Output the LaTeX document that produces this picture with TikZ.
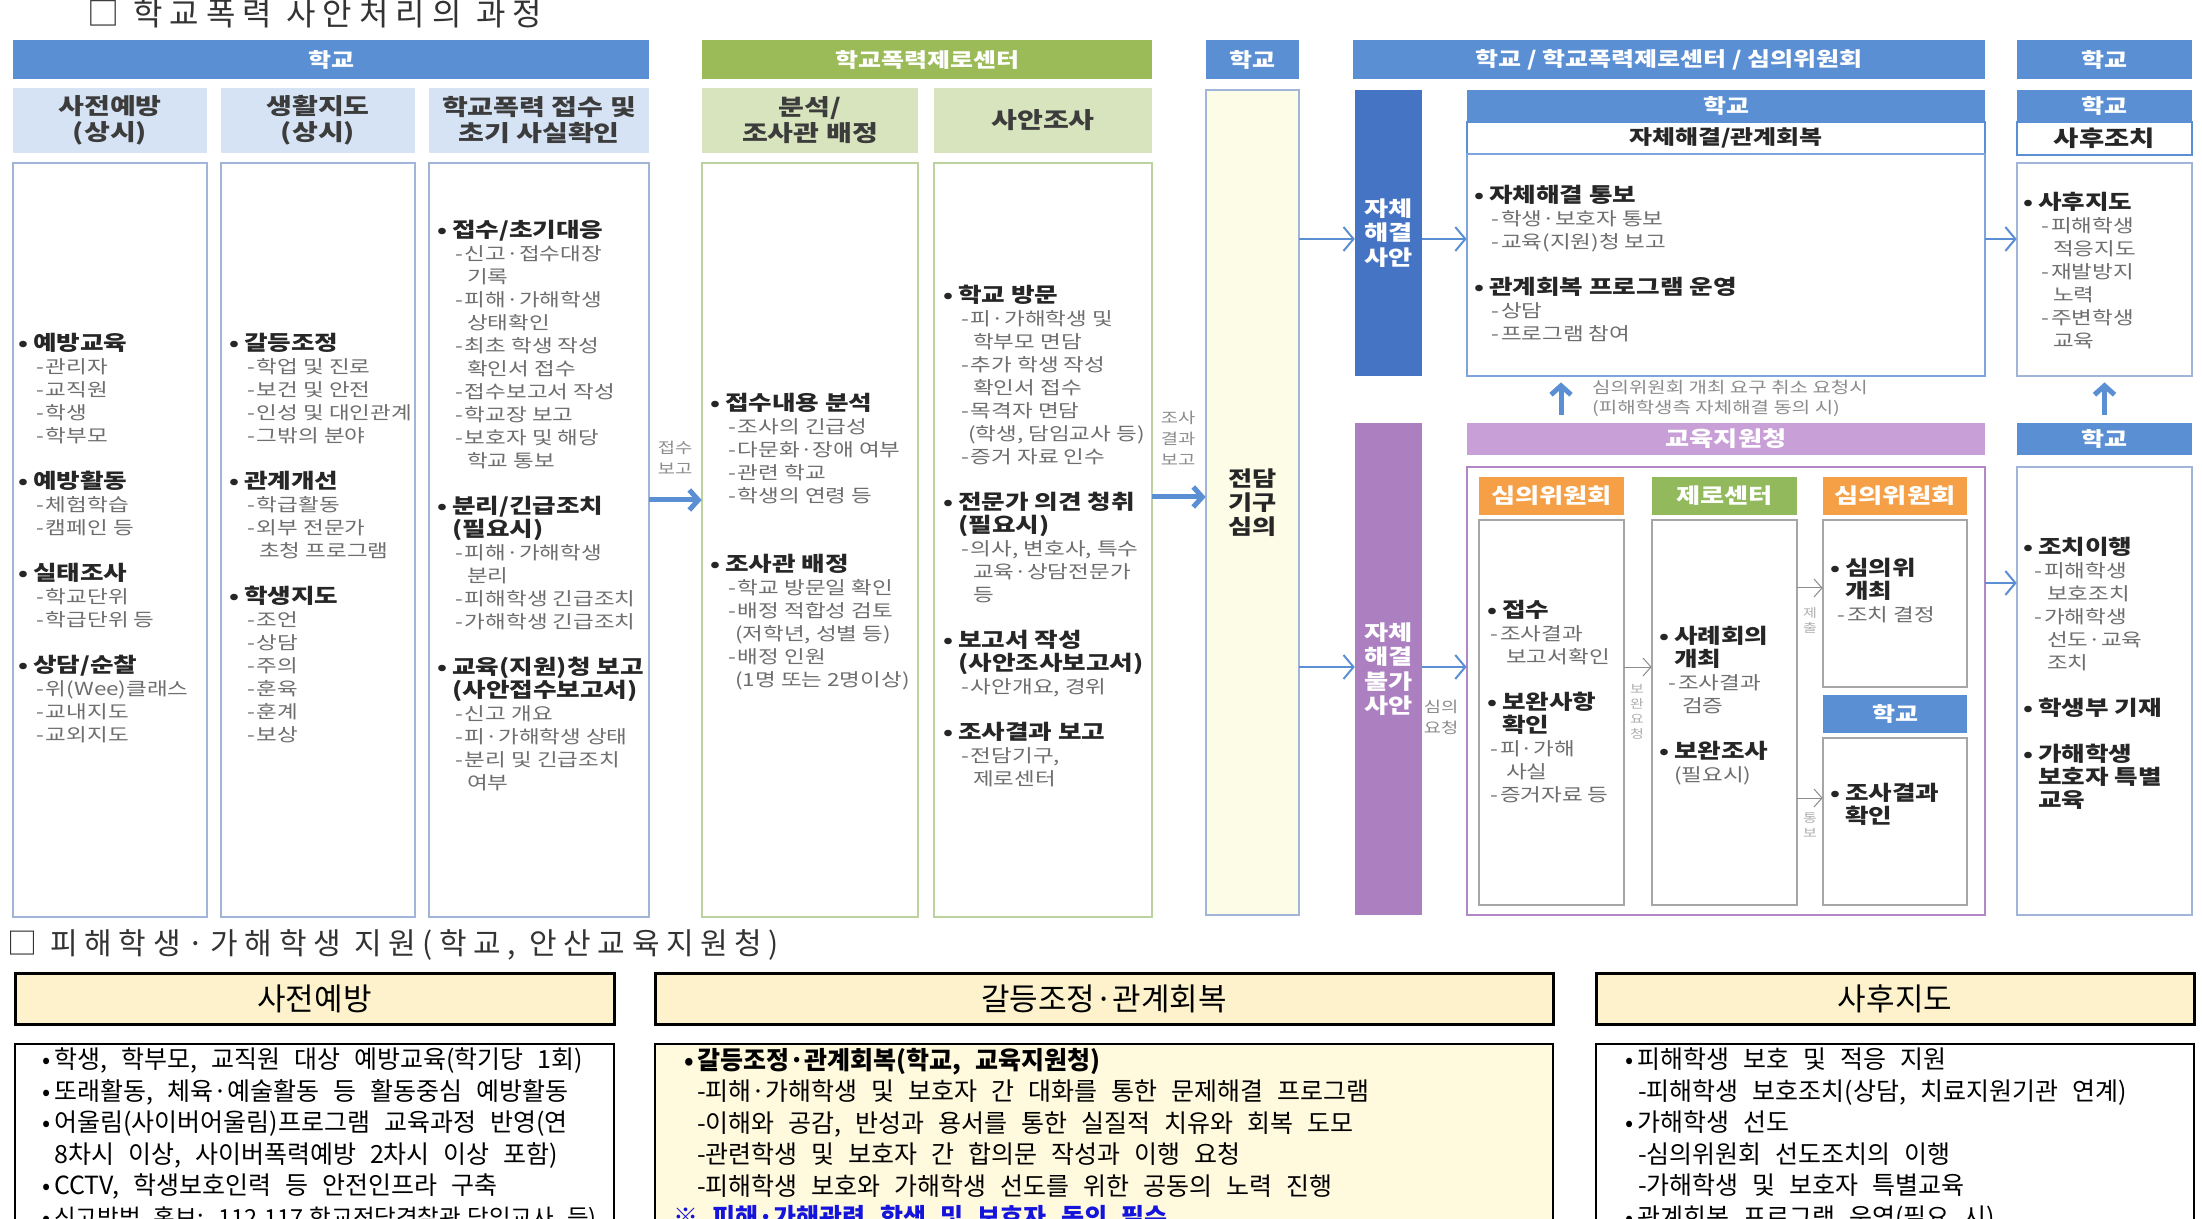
\documentclass[tikz,border=0pt]{standalone}
\usepackage{fontspec}
\usepackage{tikz}
\usetikzlibrary{arrows.meta, positioning}
\newfontfamily\kr{Noto Sans CJK KR}[FakeStretch=1.25]
\newfontfamily\krn{Noto Sans CJK KR}[WordSpace=2.5]
\newfontfamily\krt{Noto Sans CJK KR}[LetterSpace=22]
\definecolor{schoolblue}{RGB}{91,143,212}
\definecolor{darkblue}{RGB}{70,116,196}
\definecolor{paleblue}{RGB}{214,227,244}
\definecolor{lineblue}{RGB}{160,181,215}
\definecolor{zerogreen}{RGB}{155,187,89}
\definecolor{palegreen}{RGB}{215,228,189}
\definecolor{linegreen}{RGB}{190,210,160}
\definecolor{cream}{RGB}{253,252,231}
\definecolor{edupurple}{RGB}{200,160,215}
\definecolor{barpurple}{RGB}{172,128,192}
\definecolor{linepurple}{RGB}{178,135,200}
\definecolor{orangehd}{RGB}{245,160,70}
\definecolor{greenhd}{RGB}{146,186,92}
\definecolor{itemgray}{RGB}{110,110,110}
\definecolor{headgray}{RGB}{38,38,38}
\definecolor{labelgray}{RGB}{140,140,140}
\definecolor{notefill}{RGB}{253,242,204}
\definecolor{notebody}{RGB}{255,249,222}
\definecolor{noteblue}{RGB}{20,20,220}
\tikzstyle{bar} = [rectangle, inner sep=0pt, text=white, align=center, font=\kr\bfseries\fontsize{20}{24}\selectfont]
\tikzstyle{subhead} = [rectangle, inner sep=0pt, align=center, text=headgray!90, font=\kr\bfseries\fontsize{22.5}{26}\selectfont]
\tikzstyle{listbox} = [rectangle, inner sep=0pt, draw=lineblue, line width=0.7pt, fill=white]
\tikzstyle{itemlist} = [anchor=north west, inner sep=0pt, align=left, text=itemgray, font=\kr\fontsize{18}{23}\selectfont]
\tikzstyle{note} = [inner sep=0pt, align=center, text=labelgray, font=\kr\fontsize{15}{21}\selectfont]
\tikzstyle{arrow} = [line width=2.5pt, draw=schoolblue, -{Straight Barb[length=4.5pt, width=10pt]}]
\tikzstyle{thinarrow} = [line width=1pt, draw=schoolblue, -{Straight Barb[length=5pt, width=12pt]}]
\tikzstyle{grayarrow} = [line width=0.5pt, draw=labelgray, -{Straight Barb[length=4pt, width=9pt]}]
\tikzstyle{notehead} = [rectangle, draw=black, line width=1.5pt, fill=notefill, inner sep=0pt, font=\krn\fontsize{31}{36}\selectfont]
\tikzstyle{notebox} = [rectangle, draw=black, line width=1pt, inner sep=0pt, anchor=north]
\tikzstyle{notelist} = [anchor=north west, inner sep=0pt, align=left, text=black, font=\krn\fontsize{25}{31.5}\selectfont]
\newcommand{\hd}[1]{{\color{headgray}\bfseries\fontsize{20.5}{23}\selectfont\makebox[15pt][l]{\fontsize{20}{20}\selectfont •}#1}}
\newcommand{\hdc}[1]{{\color{headgray}\bfseries\fontsize{20.5}{23}\selectfont\hspace*{15pt}#1}}
\newcommand{\itm}[2][18pt]{\hspace*{#1}-\kern2pt #2}
\newcommand{\itc}[2][30pt]{\hspace*{#1}#2}
\newcommand{\bl}{\makebox[16pt][c]{\fontsize{24}{24}\selectfont •}}
\begin{document}
\begin{tikzpicture}[x=1pt, y=-1pt, scale=0.5, every node/.style={transform shape}]
\useasboundingbox (0,0) rectangle (2202,1219);
\fill [white] (0,0) rectangle (2202,1219);

% process title
\node (title) [anchor=west, inner sep=0pt, text=black!80, font=\krt\fontsize{32}{34}\selectfont] at (87,13) {□ 학교폭력 사안처리의 과정};

% school
\node (barSchool) [bar, fill=schoolblue, minimum width=636pt, minimum height=39pt] at (331,59.5) {학교};
\node (subPrev) [subhead, fill=paleblue, minimum width=194pt, minimum height=65pt] at (110,120.5) {사전예방\\(상시)};
\node (subGuide) [subhead, fill=paleblue, minimum width=194pt, minimum height=65pt] at (318,120.5) {생활지도\\(상시)};
\node (subReport) [subhead, fill=paleblue, minimum width=220pt, minimum height=65pt] at (539,120.5) {학교폭력 접수 및\\초기 사실확인};
\node (boxPrev) [listbox, minimum width=194pt, minimum height=754pt] at (110,540) {};
\node (boxGuide) [listbox, minimum width=194pt, minimum height=754pt] at (318,540) {};
\node (boxReport) [listbox, minimum width=220pt, minimum height=754pt] at (539,540) {};

\node (listPrev) [itemlist] at (18,333) {\hd{예방교육}\\ \itm{관리자}\\ \itm{교직원}\\ \itm{학생}\\ \itm{학부모}\\[23pt]
  \hd{예방활동}\\ \itm{체험학습}\\ \itm{캠페인 등}\\[23pt]
  \hd{실태조사}\\ \itm{학교단위}\\ \itm{학급단위 등}\\[23pt]
  \hd{상담/순찰}\\ \itm{위(Wee)클래스}\\ \itm{교내지도}\\ \itm{교외지도}};
\node (listGuide) [itemlist] at (229,333) {\hd{갈등조정}\\ \itm{학업 및 진로}\\ \itm{보건 및 안전}\\ \itm{인성 및 대인관계}\\ \itm{그밖의 분야}\\[23pt]
  \hd{관계개선}\\ \itm{학급활동}\\ \itm{외부 전문가}\\ \itc{초청 프로그램}\\[23pt]
  \hd{학생지도}\\ \itm{조언}\\ \itm{상담}\\ \itm{주의}\\ \itm{훈육}\\ \itm{훈계}\\ \itm{보상}};
\node (listReport) [itemlist] at (437,220) {\hd{접수/초기대응}\\ \itm{신고·접수대장}\\ \itc{기록}\\ \itm{피해·가해학생}\\ \itc{상태확인}\\ \itm{최초 학생 작성}\\ \itc{확인서 접수}\\ \itm{접수보고서 작성}\\ \itm{학교장 보고}\\ \itm{보호자 및 해당}\\ \itc{학교 통보}\\[23pt]
  \hd{분리/긴급조치}\\ \hdc{(필요시)}\\ \itm{피해·가해학생}\\ \itc{분리}\\ \itm{피해학생 긴급조치}\\ \itm{가해학생 긴급조치}\\[23pt]
  \hd{교육(지원)청 보고}\\ \hdc{(사안접수보고서)}\\ \itm{신고 개요}\\ \itm{피·가해학생 상태}\\ \itm{분리 및 긴급조치}\\ \itc{여부}};

% zero center
\node (barZero) [bar, fill=zerogreen, minimum width=450pt, minimum height=39pt] at (927,59.5) {학교폭력제로센터};
\node (subAnalysis) [subhead, fill=palegreen, minimum width=216pt, minimum height=65pt] at (810,120.5) {분석/\\조사관 배정};
\node (subInvest) [subhead, fill=palegreen, minimum width=218pt, minimum height=65pt] at (1043,120.5) {사안조사};
\node (boxAnalysis) [listbox, draw=linegreen, minimum width=216pt, minimum height=754pt] at (810,540) {};
\node (boxInvest) [listbox, draw=linegreen, minimum width=218pt, minimum height=754pt] at (1043,540) {};

\node (listAnalysis) [itemlist] at (710,393) {\hd{접수내용 분석}\\ \itm{조사의 긴급성}\\ \itm{다문화·장애 여부}\\ \itm{관련 학교}\\ \itm{학생의 연령 등}\\[46pt]
  \hd{조사관 배정}\\ \itm{학교 방문일 확인}\\ \itm{배정 적합성 검토}\\ \itc[25pt]{(저학년, 성별 등)}\\ \itm{배정 인원}\\ \itc[25pt]{(1명 또는 2명이상)}};
\node (listInvest) [itemlist] at (943,285) {\hd{학교 방문}\\ \itm{피·가해학생 및}\\ \itc{학부모 면담}\\ \itm{추가 학생 작성}\\ \itc{확인서 접수}\\ \itm{목격자 면담}\\ \itc[25pt]{(학생, 담임교사 등)}\\ \itm{증거 자료 인수}\\[23pt]
  \hd{전문가 의견 청취}\\ \hdc{(필요시)}\\ \itm{의사, 변호사, 특수}\\ \itc{교육·상담전문가}\\ \itc{등}\\[23pt]
  \hd{보고서 작성}\\ \hdc{(사안조사보고서)}\\ \itm{사안개요, 경위}\\[23pt]
  \hd{조사결과 보고}\\ \itm{전담기구,}\\ \itc{제로센터}};

% committee column
\node (barSchoolB) [bar, fill=schoolblue, minimum width=93pt, minimum height=39pt] at (1252.5,59.5) {학교};
\node (boxCommittee) [listbox, fill=cream, text=headgray, font=\kr\bfseries\fontsize{21}{24}\selectfont, align=center, minimum width=93pt, minimum height=825pt] at (1252.5,502.5) {전담\\기구\\심의};

% resolution
\node (barAll) [bar, fill=schoolblue, minimum width=632pt, minimum height=39pt] at (1669,59.5) {학교 / 학교폭력제로센터 / 심의위원회};
\node (barSchoolR) [bar, fill=schoolblue, minimum width=175pt, minimum height=39pt] at (2104.5,59.5) {학교};
\node (barSelf) [bar, fill=darkblue, font=\kr\bfseries\fontsize{21}{24.5}\selectfont, minimum width=67pt, minimum height=286pt] at (1388.5,233) {자체\\해결\\사안};
\node (hdSchoolIn) [bar, fill=schoolblue, minimum width=518pt, minimum height=32pt] at (1726,106) {학교};
\node (hdSelf) [rectangle, draw=schoolblue, line width=1pt, fill=white, text=headgray, font=\kr\bfseries\fontsize{20}{24}\selectfont, minimum width=518pt, minimum height=32pt] at (1726,138) {자체해결/관계회복};
\node (boxSelf) [listbox, draw=schoolblue!80, line width=0.8pt, minimum width=518pt, minimum height=222pt] at (1726,265) {};
\node (hdSchoolR) [bar, fill=schoolblue, minimum width=175pt, minimum height=32pt] at (2104.5,106) {학교};
\node (hdAfter) [rectangle, draw=schoolblue, line width=1pt, fill=white, text=headgray, font=\kr\bfseries\fontsize{22}{26}\selectfont, minimum width=175pt, minimum height=33pt] at (2104.5,138.5) {사후조치};
\node (boxAfter) [listbox, minimum width=175pt, minimum height=213pt] at (2104.5,269.5) {};

\node (listSelf) [itemlist] at (1474,185) {\hd{자체해결 통보}\\ \itm[17pt]{학생·보호자 통보}\\ \itm[17pt]{교육(지원)청 보고}\\[23pt]
  \hd{관계회복 프로그램 운영}\\ \itm[17pt]{상담}\\ \itm[17pt]{프로그램 참여}};
\node (listAfter) [itemlist] at (2023,192) {\hd{사후지도}\\ \itm{피해학생}\\ \itc{적응지도}\\ \itm{재발방지}\\ \itc{노력}\\ \itm{주변학생}\\ \itc{교육}};

\node (lbCancel) [note, anchor=west, align=left, font=\kr\fontsize{16}{20}\selectfont] at (1592,398) {심의위원회 개최 요구 취소 요청시\\(피해학생측 자체해결 동의 시)};

% education office
\node (barNoSelf) [bar, fill=barpurple, font=\kr\bfseries\fontsize{21}{24.5}\selectfont, minimum width=67pt, minimum height=492pt] at (1388.5,669) {자체\\해결\\불가\\사안};
\node (barEdu) [bar, fill=edupurple, font=\kr\bfseries\fontsize{21}{24}\selectfont, minimum width=518pt, minimum height=32pt] at (1726,439) {교육지원청};
\node (boxEdu) [listbox, draw=linepurple, line width=0.9pt, minimum width=518pt, minimum height=448pt] at (1726,691) {};
\node (hdComA) [bar, fill=orangehd, font=\kr\bfseries\fontsize{21}{23}\selectfont, minimum width=145pt, minimum height=38pt] at (1551.5,496) {심의위원회};
\node (hdZero) [bar, fill=greenhd, font=\kr\bfseries\fontsize{21}{23}\selectfont, minimum width=145pt, minimum height=38pt] at (1724.5,496) {제로센터};
\node (hdComB) [bar, fill=orangehd, font=\kr\bfseries\fontsize{21}{23}\selectfont, minimum width=144pt, minimum height=38pt] at (1895,496) {심의위원회};
\node (boxReceive) [listbox, draw=black!35, minimum width=145pt, minimum height=385pt] at (1551.5,712.5) {};
\node (boxCase) [listbox, draw=black!35, minimum width=145pt, minimum height=385pt] at (1724.5,712.5) {};
\node (boxDecide) [listbox, draw=black!35, minimum width=144pt, minimum height=167pt] at (1895,603.5) {};
\node (hdSchoolS) [bar, fill=schoolblue, font=\kr\bfseries\fontsize{20}{23}\selectfont, minimum width=144pt, minimum height=38pt] at (1895,714) {학교};
\node (boxCheck) [listbox, draw=black!35, minimum width=144pt, minimum height=167pt] at (1895,821.5) {};
\node (barSchoolR2) [bar, fill=schoolblue, minimum width=175pt, minimum height=32pt] at (2104.5,439) {학교};
\node (boxAction) [listbox, minimum width=175pt, minimum height=448pt] at (2104.5,691) {};

\node (listReceive) [itemlist] at (1487,600) {\hd{접수}\\ \itm[3pt]{조사결과}\\ \itc[19pt]{보고서확인}\\[23pt]
  \hd{보완사항}\\ \hdc{확인}\\ \itm[3pt]{피·가해}\\ \itc[19pt]{사실}\\ \itm[3pt]{증거자료 등}};
\node (listCase) [itemlist] at (1659,626) {\hd{사례회의}\\ \hdc{개최}\\ \itm[9pt]{조사결과}\\ \itc[23pt]{검증}\\[23pt]
  \hd{보완조사}\\ \itc[15pt]{(필요시)}};
\node (listDecide) [itemlist] at (1830,558) {\hd{심의위}\\ \hdc{개최}\\ \itm[7pt]{조치 결정}};
\node (listCheck) [itemlist] at (1830,783) {\hd{조사결과}\\ \hdc{확인}};
\node (listAction) [itemlist] at (2023,537) {\hd{조치이행}\\ \itm[11pt]{피해학생}\\ \itc[24pt]{보호조치}\\ \itm[11pt]{가해학생}\\ \itc[24pt]{선도·교육}\\ \itc[24pt]{조치}\\[23pt]
  \hd{학생부 기재}\\[23pt]
  \hd{가해학생}\\ \hdc{보호자 특별}\\ \hdc{교육}};

% labels
\node (lbReport) [note] at (675,457.5) {접수\\보고};
\node (lbResult) [note] at (1178,438) {조사\\결과\\보고};
\node (lbRequest) [note] at (1441,717) {심의\\요청};
\node (lbSupp) [note, text=labelgray!70, font=\kr\fontsize{12}{15}\selectfont] at (1637,712) {보\\완\\요\\청};
\node (lbSubmit) [note, text=labelgray!70, font=\kr\fontsize{12}{15}\selectfont] at (1810,620) {제\\출};
\node (lbNotify) [note, text=labelgray!70, font=\kr\fontsize{12}{15}\selectfont] at (1810,825) {통\\보};

% arrows
\coordinate (rowIn) at (0,500);
\coordinate (rowOut) at (0,497);
\coordinate (rowSelf) at (0,239);
\coordinate (rowNo) at (0,667);
\coordinate (rowAct) at (0,583);
\coordinate (rowSubmit) at (0,588);
\coordinate (rowNotify) at (0,798);
\coordinate (colUp) at (1561,0);
\draw [arrow] (boxReport.east |- rowIn) -- (boxAnalysis.west |- rowIn);
\draw [arrow] (boxInvest.east |- rowOut) -- (boxCommittee.west |- rowOut);
\draw [thinarrow] (boxCommittee.east |- rowSelf) -- (barSelf.west |- rowSelf);
\draw [thinarrow] (barSelf.east |- rowSelf) -- (boxSelf.west |- rowSelf);
\draw [thinarrow] (boxSelf.east |- rowSelf) -- (boxAfter.west |- rowSelf);
\draw [thinarrow] (boxCommittee.east |- rowNo) -- (barNoSelf.west |- rowNo);
\draw [thinarrow] (barNoSelf.east |- rowNo) -- (boxEdu.west |- rowNo);
\draw [thinarrow] (boxEdu.east |- rowAct) -- (boxAction.west |- rowAct);
\draw [grayarrow] (boxReceive.east |- rowNo) -- (boxCase.west |- rowNo);
\draw [grayarrow] (boxCase.east |- rowSubmit) -- (boxDecide.west |- rowSubmit);
\draw [grayarrow] (boxCase.east |- rowNotify) -- (boxCheck.west |- rowNotify);
\draw [arrow, shorten <=4pt, shorten >=3pt] (colUp |- barEdu.north) -- (colUp |- boxSelf.south);
\draw [arrow, shorten <=4pt, shorten >=3pt] (barSchoolR2.north) -- (boxAfter.south);

% support section
\node (title2) [anchor=west, inner sep=0pt, text=black!80, font=\krt\fontsize{30}{32}\selectfont] at (7,945) {□ 피해학생·가해학생 지원(학교, 안산교육지원청)};
\node (hdPre) [notehead, minimum width=599pt, minimum height=51pt] at (314.5,998.5) {사전예방};
\node (hdMed) [notehead, minimum width=898pt, minimum height=51pt] at (1104,998.5) {갈등조정·관계회복};
\node (hdPost) [notehead, minimum width=598pt, minimum height=51pt] at (1895,998.5) {사후지도};
\node (boxPre) [notebox, fill=white, minimum width=599pt, minimum height=230pt] at (314.5,1043) {};
\node (boxMed) [notebox, fill=notebody, minimum width=898pt, minimum height=230pt] at (1104,1043) {};
\node (boxPost) [notebox, fill=white, minimum width=598pt, minimum height=230pt] at (1895,1043) {};

\node (listPre) [notelist] at (38,1048) {\bl 학생, 학부모, 교직원 대상 예방교육(학기당 1회)\\ \bl 또래활동, 체육·예술활동 등 활동중심 예방활동\\ \bl 어울림(사이버어울림)프로그램 교육과정 반영(연\\ \hspace*{16pt}8차시 이상, 사이버폭력예방 2차시 이상 포함)\\ \bl CCTV, 학생보호인력 등 안전인프라 구축\\ {\fontsize{23.5}{31.5}\selectfont\bl 신고방법 홍보: 112,117,학교전담경찰관,담임교사 등)}};
\node (listMed) [notelist] at (681,1048) {{\bfseries\bl 갈등조정·관계회복(학교, 교육지원청)}\\ \hspace*{16pt}-피해·가해학생 및 보호자 간 대화를 통한 문제해결 프로그램\\ \hspace*{16pt}-이해와 공감, 반성과 용서를 통한 실질적 치유와 회복 도모\\ \hspace*{16pt}-관련학생 및 보호자 간 합의문 작성과 이행 요청\\ \hspace*{16pt}-피해학생 보호와 가해학생 선도를 위한 공동의 노력 진행\\ {\hspace*{-8pt}\color{noteblue}\bfseries ※ 피해·가해관련 학생 및 보호자 동의 필수}};
\node (listPost) [notelist] at (1621,1048) {\bl 피해학생 보호 및 적응 지원\\ \hspace*{17pt}-피해학생 보호조치(상담, 치료지원기관 연계)\\ \bl 가해학생 선도\\ \hspace*{17pt}-심의위원회 선도조치의 이행\\ \hspace*{17pt}-가해학생 및 보호자 특별교육\\ \bl 관계회복 프로그램 운영(필요 시)};
\end{tikzpicture}
\end{document}
